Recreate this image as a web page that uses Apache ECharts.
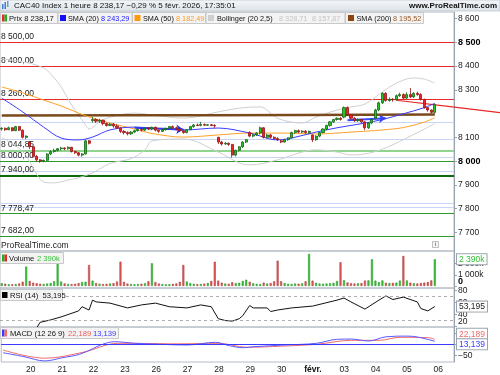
<!DOCTYPE html>
<html><head><meta charset="utf-8">
<script src="https://cdn.jsdelivr.net/npm/echarts@6/dist/echarts.min.js"></script>
<style>html,body{margin:0;padding:0;background:#fff}#c{width:500px;height:375px}</style>
</head><body><div id="c"></div>
<script>
// ---------- DATA ----------
const dayNames = ['19','20','21','22','23','26','27','28','29','30','févr.','03','04','05','06'];
const open  = [8135,8138,8132,8140,8128,8145,8130,8100, 8080,8060,8020,8005,8000,8003,8030,8040,8045, 8052,8055,8052,8058,8040,8035,8025,8030,8085, 8170,8175,8168,8172,8158,8150,8155,8148,8140, 8125,8120,8115,8122,8128,8133,8130,8138,8135, 8142,8130,8125,8132,8138,8145,8140,8135,8128, 8120,8132,8145,8152,8150,8154,8151,8153,8150, 8100,8080,8072,8075,8070,8025,8045,8060,8080, 8120,8105,8110,8118,8140,8100,8110,8100,8095, 8085,8080,8090,8098,8120,8128,8122,8126,8120, 8110,8090,8105,8120,8135,8150,8165,8175,8180, 8185,8225,8195,8180,8170,8175,8165,8140,8160, 8180,8215,8245,8285,8255,8260,8258,8275,8280, 8265,8280,8270,8285,8280,8260,8225,8215,8205];
const close = [8138,8132,8140,8128,8145,8130,8100,8105, 8060,8020,8005,8000,8003,8030,8040,8045,8052, 8055,8052,8058,8040,8035,8025,8030,8085,8075, 8175,8168,8172,8158,8150,8155,8148,8140,8125, 8120,8115,8122,8128,8133,8130,8138,8135,8142, 8130,8125,8132,8138,8145,8140,8135,8128,8120, 8132,8145,8152,8150,8154,8151,8153,8150,8148, 8080,8072,8075,8070,8025,8045,8060,8080,8090, 8105,8110,8118,8140,8100,8110,8100,8095,8090, 8080,8090,8098,8120,8128,8122,8126,8120,8125, 8090,8105,8120,8135,8150,8165,8175,8180,8175, 8225,8195,8180,8170,8175,8165,8140,8160,8175, 8215,8245,8285,8255,8260,8258,8275,8280,8265, 8280,8270,8285,8280,8260,8225,8215,8205,8238.17];
const low   = [8128,8127,8130,8125,8126,8126,8095,8092, 8050,8015,7998,7993,7995,8000,8025,8035,8040, 8045,8046,8048,8036,8030,8020,8018,8028,8070, 8162,8160,8160,8150,8145,8147,8140,8135,8118, 8112,8108,8110,8118,8124,8125,8127,8130,8130, 8125,8118,8122,8128,8135,8136,8130,8125,8115, 8117,8130,8140,8147,8146,8148,8148,8147,8140, 8072,8065,8068,8064,8015,8020,8040,8055,8076, 8100,8100,8105,8112,8095,8095,8095,8090,8085, 8075,8078,8085,8095,8115,8118,8118,8115,8115, 8080,8085,8100,8117,8130,8145,8160,8170,8170, 8180,8190,8175,8165,8165,8160,8130,8135,8155, 8175,8210,8240,8250,8250,8250,8255,8270,8260, 8262,8265,8265,8275,8255,8220,8208,8200,8200];
const high  = [8142,8141,8145,8142,8148,8147,8133,8108, 8085,8062,8025,8008,8006,8033,8045,8052,8055, 8060,8058,8062,8060,8044,8038,8033,8090,8088, 8185,8180,8178,8174,8162,8160,8160,8155,8143, 8130,8125,8126,8132,8137,8138,8141,8142,8145, 8145,8133,8135,8140,8148,8150,8145,8140,8133, 8135,8148,8156,8158,8165,8158,8156,8156,8155, 8102,8085,8080,8078,8072,8048,8062,8083,8093, 8125,8115,8122,8145,8143,8115,8114,8104,8100, 8090,8094,8100,8124,8132,8133,8130,8130,8128, 8112,8108,8123,8138,8153,8168,8178,8184,8185, 8230,8230,8198,8185,8180,8178,8168,8163,8180, 8220,8250,8290,8290,8268,8265,8280,8288,8285, 8290,8308,8290,8292,8285,8262,8228,8218,8242];
const volumeK = [250,200,160,150,180,220,380,1730, 450,300,250,200,180,220,260,420,2080, 400,230,180,170,200,260,350,380,1875, 480,260,200,180,190,230,250,400,2170, 380,220,180,160,170,200,250,420,2025, 350,220,170,150,160,190,230,380,1875, 400,250,200,170,180,210,260,450,2170, 480,300,220,200,330,260,280,450,560, 380,240,190,170,300,220,260,420,2260, 420,260,200,180,220,200,240,420,2860, 480,280,220,200,220,250,280,450,2120, 520,320,250,220,240,260,480,500,2390, 480,350,500,300,260,280,300,480,2680, 500,300,240,220,260,300,350,500,2390];
// indicator readings: [candle index, value]
const sma20Pts = [[0,8265],[6,8207],[12,8143],[17,8097],[22,8089],[26,8101],[31,8131],[38,8143],[43,8139],[52,8131],[62,8139],[71,8118],[79,8089],[83,8097],[90,8122],[96,8140],[100,8150],[104,8160],[109,8175],[115,8199],[121,8225],[124,8243.29]];
const sma50Pts = [[0,8312],[6,8287],[12,8257],[17,8232],[22,8202],[26,8181],[31,8160],[38,8135],[43,8116],[52,8101],[62,8110],[71,8118],[79,8118],[90,8114],[100,8122],[109,8131],[115,8141],[121,8164],[124,8182.49]];
const sma200Pts = [[0,8192],[60,8193],[124,8195.52]];
const bbUpperPts = [[0,8430],[6,8418],[12,8392],[15,8350],[17,8312],[20,8236],[22,8194],[24,8152],[25,8135],[28,8165],[31,8185],[38,8202],[43,8194],[52,8181],[62,8207],[68,8223],[74,8228],[79,8180],[86,8160],[90,8185],[96,8215],[100,8228],[104,8240],[109,8291],[112,8320],[115,8341],[118,8350],[121,8345],[124,8328.71]];
const bbLowerPts = [[0,8100],[6,8040],[9,7971],[12,7912],[15,7908],[19,7920],[22,7930],[26,7950],[31,7990],[37,8010],[41,8047],[43,8085],[52,8093],[62,8038],[68,7992],[71,7984],[79,8005],[86,8038],[90,8047],[96,8038],[100,8026],[104,8030],[109,8050],[115,8090],[121,8135],[124,8157.87]];
const rsiPts = [[0,15],[4,14],[8,13],[10,18],[11,27],[14,31],[17,36],[22,46],[23,53],[25,47.5],[26,64],[27,61],[31,59],[36,51],[40,56],[44,59],[48,53],[53,51],[57,56],[60,53],[62,33],[64,30],[66,29],[68,33],[69,38],[71,55],[72,51],[76,51],[77,45],[79,47.5],[83,51],[89,54],[96,64],[98,67.5],[100,61],[104,49],[108,64],[110,71],[112,65],[115,69],[119,61],[120,50],[122,46],[124,53.195]];
const macdPts = [[0,-37],[6,-54],[12,-73],[17,-59],[22,-44],[26,-17.5],[28,-3],[32,11.4],[38,4.4],[45,0],[53,-3],[61,8.8],[65,-6],[69,-15],[72,-10.5],[81,-3],[90,4.4],[96,22],[100,23],[105,14.5],[110,33],[116,36],[119,32],[124,13.139]];
const signalPts = [[0,-25],[12,-61],[23,-35],[33,4.4],[40,4],[50,2],[62,4.4],[70,-13],[80,-8],[90,0],[100,17.5],[108,17.5],[114,30.7],[122,29],[124,22.189]];
const redLevels = [8500, 8400, 8260];
const greenLevels = [8000, 7778.47, 7682];
const lightGreenLevels = [8044.85];
const darkGreenLevels = [7940];
const blueLevels = [8164, 8093, 8018, 7955, 7822, 7805];
const rsiBands = [70, 30];
const priceTicks = [7700,7800,7900,8000,8100,8300,8400,8500,8600];
const volTicks = [1000000,2000000];
const volZeroTick = [0];
const rsiTicks = [40,60,80];
const rsiLowTick = [20];
const macdTicks = [-50,0,50];
const lastPrice = 8238.17, lastSma200 = 8195.52, lastVol = 2390000, lastRsi = 53.195, lastMacd = 13.139, lastSignal = 22.189;
const trendRed = [[113, 8256],[129, 8228]];
const arrowBlue1 = [[38, 8140],[52, 8133]];
const arrowBlue2 = [[99, 8172],[110, 8180]];

// ---------- BUILD ----------
const categories = [];
dayNames.forEach((d, k) => {
  const h0 = k === 0 ? 10 : 9, h1 = k === dayNames.length - 1 ? 13 : 17;
  for (let h = h0; h <= h1; h++) categories.push(d + '|' + h);
});
const N = categories.length;
const fmt = (v, d) => v.toFixed(d).replace('.', ',').replace(/\B(?=(\d{3})+(?!\d))/g, ' ');
const sparse = pts => { const a = new Array(N).fill(null); pts.forEach(([i, v]) => a[i] = v); return a; };
const candles = open.map((o, i) => [o, close[i], low[i], high[i]]);
const volData = volumeK.map((v, i) => ({value: v * 1000, itemStyle: {color: close[i] >= open[i] ? '#3cc43c' : '#e25a5a', borderColor: close[i] >= open[i] ? '#1f8f1f' : '#a83232', borderWidth: 0.5}}));

const FONT = '"Liberation Sans", Arial, sans-serif';
const GL = -2.5, GR = 46;
const grids = [
  {left: GL, right: GR, top: 12, height: 239},
  {left: GL, right: GR, top: 251, height: 37},
  {left: GL, right: GR, top: 288, height: 39},
  {left: GL, right: GR, top: 327, height: 35}
].map(g => Object.assign(g, {show: true, borderColor: '#b4bcc6', borderWidth: 1}));
const ranges = [[7621.3, 8627.6], [-178600, 3125000], [19.2, 84.2], [-77.6, 75.9]];

const xAxes = [0,1,2,3].map(k => ({
  type: 'category', gridIndex: k, data: categories, boundaryGap: true,
  axisLine: {show: k === 3, lineStyle: {color: '#b4bcc6'}}, axisTick: {show: false}, splitLine: {show: false},
  axisLabel: k === 3 ? {
    show: true, interval: 0, margin: 3, fontFamily: FONT, fontSize: 8.5, color: '#222',
    formatter: v => { const [d, h] = v.split('|'); return h === '9' ? (d === 'févr.' ? '{b|févr.}' : d) : ''; },
    rich: {b: {fontWeight: 'bold', fontFamily: FONT, fontSize: 8.5, color: '#111'}}
  } : {show: false}
}));

function yAx(k, ticks, fmtFn, bold, lift) {
  return {
    type: 'value', gridIndex: k, position: 'right', offset: 0, min: ranges[k][0], max: ranges[k][1],
    axisLine: {show: true, lineStyle: {color: '#98a2ae'}},
    axisTick: {show: true, length: 3, lineStyle: {color: '#98a2ae'}, customValues: ticks},
    splitLine: {show: false},
    axisLabel: {customValues: ticks, margin: 4, fontFamily: FONT, fontSize: 8.5, color: '#222',
      showMinLabel: true, showMaxLabel: true, padding: [0, 0, lift || 0, 0],
      formatter: v => bold && bold.includes(v) ? '{b|' + fmtFn(v) + '}' : fmtFn(v),
      rich: {b: {fontWeight: 'bold', fontSize: 9, fontFamily: FONT, color: '#000'}}}
  };
}
function boxAx(k, value, text, color, lift, drop) {
  return {
    type: 'value', gridIndex: k, position: 'right', offset: 0, min: ranges[k][0], max: ranges[k][1],
    axisLine: {show: false}, axisTick: {show: false}, splitLine: {show: false},
    axisLabel: {customValues: [value], margin: 3, showMinLabel: true, showMaxLabel: true,
      formatter: () => '{a|' + text + '}', padding: [drop || 0, 0, lift || 0, 0],
      rich: {a: {color: color, backgroundColor: '#fff', borderColor: '#9aa4ae', borderWidth: 1, padding: [1, 2, 0, 2], fontFamily: FONT, fontSize: 8.5}}}
  };
}
const yAxes = [
  yAx(0, priceTicks, v => fmt(v, 0), [8000, 8500]),
  yAx(1, volTicks, v => fmt(v / 1000, 0) + 'k'),
  yAx(2, rsiTicks, v => String(v)),
  yAx(3, macdTicks, v => v === 0 ? '0' : (v < 0 ? '\u221250' : String(v))),
  yAx(1, volZeroTick, v => '0', [0], 9),
  yAx(2, rsiLowTick, v => String(v), null, 9),
  boxAx(1, lastVol, fmt(lastVol / 1000, 0) + 'k', '#33c233'),
  boxAx(2, lastRsi, fmt(lastRsi, 3), '#222'),
  boxAx(3, lastSignal, fmt(lastSignal, 3), '#f26a6a', 11),
  boxAx(3, lastMacd, fmt(lastMacd, 3), '#3a3aff', 0, 6)
];

const boxLabel = (text, color, bg, bold) => ({
  show: true, position: 'end', distance: 3, formatter: text, color: color, backgroundColor: bg || '#fff',
  borderColor: '#9aa', borderWidth: 1, padding: [1, 2, 0, 2], fontFamily: FONT, fontSize: bold ? 9.5 : 8.5,
  fontWeight: bold ? 'bold' : 'normal'
});
const hidden = {opacity: 0, width: 0.1};
const levelLine = (v, color, width, label) => ({
  yAxis: v, lineStyle: {color: color, width: width, type: 'solid'},
  label: label ? {show: true, position: 'insideStartTop', distance: 1, formatter: fmt(v, 2), color: '#222', fontFamily: FONT, fontSize: 8.5} : {show: false}
});
const segLine = (pts, color, width, arrow) => [
  {coord: [categories[pts[0][0]], pts[0][1]], lineStyle: {color: color, width: width, type: 'solid'}, symbol: 'none'},
  {coord: [categories[pts[1][0]], pts[1][1]], symbol: arrow ? 'arrow' : 'none', symbolSize: 7}
];
const lineS = (name, pts, xi, color, width, z, smooth) => ({
  name: name, type: 'line', xAxisIndex: xi, yAxisIndex: xi, data: sparse(pts), connectNulls: true,
  showSymbol: false, smooth: smooth === undefined ? 0.35 : smooth, lineStyle: {color: color, width: width}, z: z || 3
});

const graphics = [
    {type: 'rect', shape: {x: 0, y: 0, width: 500, height: 11}, style: {fill: new echarts.graphic.LinearGradient(0, 0, 0, 1, [{offset: 0, color: '#f4f6f8'}, {offset: 1, color: '#dde3e9'}]), stroke: '#c3cbd3', lineWidth: 0.5}, z: 10},
    {type: 'rect', shape: {x: 2, y: 4, width: 1.5, height: 5}, style: {fill: '#3f7fd0'}, z: 11},
    {type: 'rect', shape: {x: 4.5, y: 2, width: 1.5, height: 7}, style: {fill: '#3f7fd0'}, z: 11},
    {type: 'rect', shape: {x: 7, y: 1, width: 1.5, height: 6}, style: {fill: '#5fa0e0'}, z: 11},
    {type: 'text', x: 14, y: 6, style: {text: 'CAC40 Index 1 heure 8 238,17 \u22120,29 % 5 févr. 2026, 17:35:01', font: '8px ' + FONT, fill: '#111', verticalAlign: 'middle'}, z: 11},
    {type: 'text', x: 497, y: 6, style: {text: 'www.ProRealTime.com', font: 'bold 8px ' + FONT, fill: '#111', align: 'right', verticalAlign: 'middle'}, z: 11},
    // legend boxes
    {type: 'rect', shape: {x: 0.5, y: 12.5, width: 57, height: 11}, style: {fill: '#f3f3f3', stroke: '#c8c8c8'}, z: 10},
    {type: 'rect', shape: {x: 2, y: 14.5, width: 2.5, height: 7}, style: {fill: '#e02a2a'}, z: 11},
    {type: 'rect', shape: {x: 4.5, y: 14.5, width: 2.5, height: 7}, style: {fill: '#22b022'}, z: 11},
    {type: 'text', x: 9, y: 18.5, style: {text: 'Prix 8 238,17', font: '7.6px ' + FONT, fill: '#111', verticalAlign: 'middle'}, z: 11},
    {type: 'rect', shape: {x: 58, y: 12.5, width: 74, height: 11}, style: {fill: '#f3f3f3', stroke: '#c8c8c8'}, z: 10},
    {type: 'rect', shape: {x: 60, y: 15, width: 6, height: 6}, style: {fill: '#1010ff'}, z: 11},
    {type: 'text', x: 68, y: 18.5, style: {text: 'SMA (20)', font: '7.3px ' + FONT, fill: '#111', verticalAlign: 'middle'}, z: 11},
    {type: 'text', x: 101, y: 18.5, style: {text: '8 243,29', font: '7.3px ' + FONT, fill: '#2020ff', verticalAlign: 'middle'}, z: 11},
    {type: 'rect', shape: {x: 132.5, y: 12.5, width: 73, height: 11}, style: {fill: '#f3f3f3', stroke: '#c8c8c8'}, z: 10},
    {type: 'rect', shape: {x: 134.5, y: 15, width: 6, height: 6}, style: {fill: '#ff9a10'}, z: 11},
    {type: 'text', x: 143, y: 18.5, style: {text: 'SMA (50)', font: '7.3px ' + FONT, fill: '#111', verticalAlign: 'middle'}, z: 11},
    {type: 'text', x: 176, y: 18.5, style: {text: '8 182,49', font: '7.3px ' + FONT, fill: '#ff9a20', verticalAlign: 'middle'}, z: 11},
    {type: 'rect', shape: {x: 206, y: 12.5, width: 139, height: 11}, style: {fill: '#f3f3f3', stroke: '#c8c8c8'}, z: 10},
    {type: 'rect', shape: {x: 208, y: 15, width: 6, height: 6}, style: {fill: '#cfcfcf'}, z: 11},
    {type: 'text', x: 217, y: 18.5, style: {text: 'Bollinger (20 2,5)', font: '7.3px ' + FONT, fill: '#111', verticalAlign: 'middle'}, z: 11},
    {type: 'text', x: 279, y: 18.5, style: {text: '8 328,71', font: '7.3px ' + FONT, fill: '#c4c4c4', verticalAlign: 'middle'}, z: 11},
    {type: 'text', x: 312, y: 18.5, style: {text: '8 157,87', font: '7.3px ' + FONT, fill: '#c4c4c4', verticalAlign: 'middle'}, z: 11},
    {type: 'rect', shape: {x: 345.5, y: 12.5, width: 78, height: 11}, style: {fill: '#f3f3f3', stroke: '#c8c8c8'}, z: 10},
    {type: 'rect', shape: {x: 348, y: 15, width: 6, height: 6}, style: {fill: '#8b4513'}, z: 11},
    {type: 'text', x: 356.5, y: 18.5, style: {text: 'SMA (200)', font: '7.3px ' + FONT, fill: '#111', verticalAlign: 'middle'}, z: 11},
    {type: 'text', x: 393, y: 18.5, style: {text: '8 195,52', font: '7.3px ' + FONT, fill: '#9a5a22', verticalAlign: 'middle'}, z: 11},
    // watermark & info
    {type: 'text', x: 1, y: 246, style: {text: 'ProRealTime.com', font: '8.5px ' + FONT, fill: '#222', verticalAlign: 'middle'}, z: 11},
    {type: 'rect', shape: {x: 432.5, y: 241.5, width: 6, height: 6}, style: {fill: '#f4f4f4', stroke: '#999', lineWidth: 0.6}, z: 11},
    {type: 'text', x: 435.5, y: 244.8, style: {text: 'i', font: '6px ' + FONT, fill: '#444', align: 'center', verticalAlign: 'middle'}, z: 12},
    // volume title
    {type: 'rect', shape: {x: 0.5, y: 252.5, width: 63, height: 11}, style: {fill: '#f3f3f3', stroke: '#c8c8c8'}, z: 10},
    {type: 'rect', shape: {x: 2, y: 254.5, width: 2.5, height: 7}, style: {fill: '#22b022'}, z: 11},
    {type: 'rect', shape: {x: 4.5, y: 254.5, width: 2.5, height: 7}, style: {fill: '#e02a2a'}, z: 11},
    {type: 'text', x: 9, y: 258.5, style: {text: 'Volume', font: '7.6px ' + FONT, fill: '#111', verticalAlign: 'middle'}, z: 11},
    {type: 'text', x: 37, y: 258.5, style: {text: '2 390k', font: '7.6px ' + FONT, fill: '#33c233', verticalAlign: 'middle'}, z: 11},
    // RSI title
    {type: 'rect', shape: {x: 0.5, y: 289.5, width: 62, height: 11}, style: {fill: '#f3f3f3', stroke: '#c8c8c8'}, z: 10},
    {type: 'rect', shape: {x: 2, y: 292, width: 5.5, height: 6}, style: {fill: '#000'}, z: 11},
    {type: 'text', x: 10, y: 295.5, style: {text: 'RSI (14)  53,195', font: '7.6px ' + FONT, fill: '#111', verticalAlign: 'middle'}, z: 11},
    // MACD title
    {type: 'rect', shape: {x: 0.5, y: 327.5, width: 118, height: 11}, style: {fill: '#f3f3f3', stroke: '#c8c8c8'}, z: 10},
    {type: 'rect', shape: {x: 2, y: 329.5, width: 2.5, height: 7}, style: {fill: '#3a3aff'}, z: 11},
    {type: 'rect', shape: {x: 4.5, y: 329.5, width: 2.5, height: 7}, style: {fill: '#f26a6a'}, z: 11},
    {type: 'text', x: 10, y: 333.5, style: {text: 'MACD (12 26 9)', font: '7.6px ' + FONT, fill: '#111', verticalAlign: 'middle'}, z: 11},
    {type: 'text', x: 68, y: 333.5, style: {text: '22,189', font: '7.6px ' + FONT, fill: '#f05a5a', verticalAlign: 'middle'}, z: 11},
    {type: 'text', x: 93, y: 333.5, style: {text: '13,139', font: '7.6px ' + FONT, fill: '#3a3aff', verticalAlign: 'middle'}, z: 11}
];

const option = {
  animation: false,
  grid: grids, xAxis: xAxes, yAxis: yAxes,
  series: [
    lineS('BBup', bbUpperPts, 0, '#cfcfcf', 1, 2),
    lineS('BBlo', bbLowerPts, 0, '#cfcfcf', 1, 2),
    lineS('SMA200', sma200Pts, 0, '#7b4a1c', 2.5, 2),
    lineS('SMA50', sma50Pts, 0, '#ffa028', 1, 3),
    lineS('SMA20', sma20Pts, 0, '#3a3aff', 1, 3),
    {
      type: 'candlestick', xAxisIndex: 0, yAxisIndex: 0, data: candles, barWidth: 2.6, z: 5,
      itemStyle: {color: '#27c227', color0: '#e8262a', borderColor: '#146614', borderColor0: '#9a1414', borderWidth: 0.8},
      markLine: {
        silent: true, symbol: ['none', 'none'], z: 2,
        data: [
          ...blueLevels.map(v => levelLine(v, '#c9d5f5', 1, false)),
          ...redLevels.map(v => levelLine(v, '#e8282a', 1, true)),
          ...lightGreenLevels.map(v => levelLine(v, '#8fd48f', 2, true)),
          ...greenLevels.map(v => levelLine(v, '#2b9a2b', 1.2, true)),
          ...darkGreenLevels.map(v => levelLine(v, '#0b6b0b', 2.2, true)),
          segLine(trendRed, '#e8282a', 1.2, false),
          segLine(arrowBlue1, '#2a3ad8', 2, true),
          segLine(arrowBlue2, '#3a4aff', 2, true),
          {yAxis: lastSma200, lineStyle: hidden, label: boxLabel(fmt(lastSma200, 2), '#8a5a2a', '#fff', false)},
          {yAxis: lastPrice, lineStyle: hidden, label: boxLabel(fmt(lastPrice, 2), '#000', '#ffd21f', true)}
        ]
      }
    },
    {type: 'bar', xAxisIndex: 1, yAxisIndex: 1, data: volData, barWidth: 2},
    Object.assign(lineS('RSI', rsiPts, 2, '#111', 1, 3, 0), {markLine: {silent: true, symbol: ['none', 'none'],
      data: rsiBands.map(v => ({yAxis: v, lineStyle: {color: '#999', type: [3, 3], width: 0.8}, label: {show: false}}))}}),
    Object.assign(lineS('Signal', signalPts, 3, '#f26a6a', 1, 3), {markLine: {silent: true, symbol: ['none', 'none'],
      data: [{yAxis: 0, lineStyle: {color: '#3a3aff', width: 1, type: 'solid'}, label: {show: false}}]}}),
    lineS('MACD', macdPts, 3, '#5a5aff', 1, 4)
  ],
  graphic: graphics
};
const chart = echarts.init(document.getElementById('c'), null, {renderer: 'canvas', width: 500, height: 375});
chart.setOption(option);
// extend the drawn red trendline to the right edge, behind the value box (positions from the library's scales)
const pA = chart.convertToPixel({xAxisIndex: 0, yAxisIndex: 0}, [categories[trendRed[0][0]], trendRed[0][1]]);
const pB = chart.convertToPixel({xAxisIndex: 0, yAxisIndex: 0}, [categories[trendRed[1][0]], trendRed[1][1]]);
if (pA && pB) {
  const slope = (pB[1] - pA[1]) / (pB[0] - pA[0]);
  graphics.push({type: 'line', shape: {x1: pB[0], y1: pB[1], x2: 500, y2: pB[1] + slope * (500 - pB[0])}, style: {stroke: '#e8282a', lineWidth: 1.2}, z: 1});
  chart.setOption({graphic: graphics});
}
</script></body></html>
